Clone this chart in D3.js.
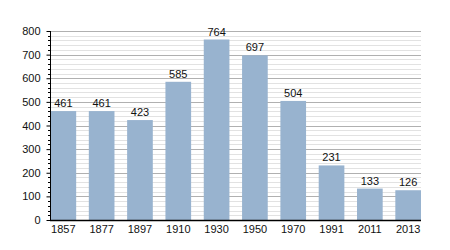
<!DOCTYPE html>
<html>
<head>
<meta charset="utf-8">
<script src="https://cdn.jsdelivr.net/npm/d3@7"></script>
<style>
  html, body { margin: 0; padding: 0; background: #fff; }
  svg { display: block; font-family: "Liberation Sans", Arial, sans-serif; }
</style>
</head>
<body>
<svg id="chart" width="450" height="250"></svg>
<script>
// Population by census year
var years = ["1857", "1877", "1897", "1910", "1930", "1950", "1970", "1991", "2011", "2013"];
var population = [461, 461, 423, 585, 764, 697, 504, 231, 133, 126];
var yTicks = [0, 100, 200, 300, 400, 500, 600, 700, 800];

(function () {
  var svg = d3.select("#chart");
  var left = 50.5, right = 421, plotTop = 31, bottom = 220;

  var x = d3.scaleBand().domain(years).range([left, right]).paddingInner(0.33).paddingOuter(0);
  var y = d3.scaleLinear().domain([0, 800]).range([bottom, plotTop]);

  function py(d) { return Math.round(y(d)) + 0.5; }

  // minor grid every 20
  var minor = d3.range(0, 801, 20).filter(function (v) { return v % 100 !== 0; });
  svg.append("g").selectAll("line").data(minor).join("line")
    .attr("x1", left).attr("x2", right)
    .attr("y1", py).attr("y2", py)
    .attr("stroke", "#e2e2e2").attr("stroke-width", 1);

  // major grid
  svg.append("g").selectAll("line").data(yTicks.slice(1)).join("line")
    .attr("x1", left).attr("x2", right)
    .attr("y1", py).attr("y2", py)
    .attr("stroke", "#b0b0b0").attr("stroke-width", 1);

  // bars
  svg.append("g").selectAll("rect").data(population).join("rect")
    .attr("x", function (d, i) { return x(years[i]); })
    .attr("width", x.bandwidth())
    .attr("y", function (d) { return y(d); })
    .attr("height", function (d) { return bottom - y(d); })
    .attr("fill", "#98b3cf");

  // value labels
  svg.append("g").selectAll("text").data(population).join("text")
    .attr("x", function (d, i) { return x(years[i]) + x.bandwidth() / 2; })
    .attr("y", function (d) { return y(d) - 4; })
    .attr("text-anchor", "middle")
    .attr("font-size", "11px")
    .attr("fill", "#111")
    .text(function (d) { return d; });

  // y axis minor ticks
  svg.append("g").selectAll("line").data(minor).join("line")
    .attr("x1", left - 2.5).attr("x2", left)
    .attr("y1", py).attr("y2", py)
    .attr("stroke", "#000");

  // y axis
  var yAxis = svg.append("g")
    .attr("transform", "translate(" + left + ",0)")
    .call(d3.axisLeft(y).tickValues(yTicks).tickSize(4).tickPadding(6).tickFormat(d3.format("d")));
  yAxis.select(".domain").attr("d", "M0," + plotTop + "V" + bottom);
  yAxis.selectAll("text").attr("font-size", "11px").attr("fill", "#111")
    .attr("font-family", "Liberation Sans, Arial, sans-serif");

  // x axis
  var xAxis = svg.append("g")
    .attr("transform", "translate(0," + (bottom + 0.5) + ")")
    .call(d3.axisBottom(x).tickSize(0).tickPadding(5));
  xAxis.select(".domain").attr("d", "M" + (left - 0.5) + ",0H" + right).attr("stroke-width", 1.5);
  xAxis.selectAll("text").attr("font-size", "11px").attr("fill", "#111")
    .attr("font-family", "Liberation Sans, Arial, sans-serif");
})();
</script>
</body>
</html>
